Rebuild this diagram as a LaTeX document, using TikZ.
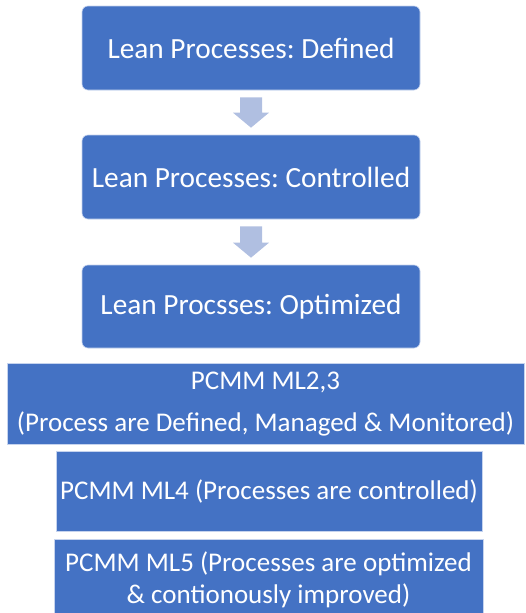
\documentclass[tikz,border=0pt]{standalone}
\usepackage{fontspec}
\setmainfont{Carlito}
\usepackage{tikz}
\usetikzlibrary{calc}
\definecolor{boxblue}{HTML}{4472C4}
\definecolor{arrowblue}{HTML}{B0BFE1}
\definecolor{edgeblue}{HTML}{C5D3EE}
\frenchspacing

\begin{document}
\begin{tikzpicture}[x=1pt, y=-1pt,
  leanbox/.style={fill=boxblue, draw=edgeblue, line width=0.6pt, rounded corners=6pt,
    minimum width=338pt, minimum height=84pt, inner sep=0pt, text=white,
    font=\fontsize{29.3}{35}\selectfont},
  pcmmbox/.style={fill=boxblue, draw=edgeblue, line width=0.6pt, inner sep=0pt,
    text=white, align=center, font=\fontsize{27}{32}\selectfont}]
  \useasboundingbox (0,0) rectangle (525,613);
  \clip (0,0) rectangle (525,613);
  % lean process steps
  \node[leanbox] (defined) at (251,48) {Lean Processes: Defined};
  \node[leanbox] (controlled) at (251,177) {Lean Processes: Controlled};
  \node[leanbox, minimum height=83pt] (optimized) at (251,306.5) {Lean Procsses: Optimized};
  \foreach \a/\b in {defined/controlled, controlled/optimized}
    \fill[arrowblue] ($(\a.south)+(-11,7)$) -- ($(\a.south)+(11,7)$)
      -- ($(\b.north)+(11,-22)$) -- ($(\b.north)+(18,-22)$) -- ($(\b.north)+(0,-7)$)
      -- ($(\b.north)+(-18,-22)$) -- ($(\b.north)+(-11,-22)$) -- cycle;
  % PCMM maturity levels
  \node[pcmmbox, minimum width=517pt, minimum height=81pt, font=\fontsize{27}{42}\selectfont]
    (mltwo) at (265.5,404) {PCMM ML2,3\\(Process are Defined, Managed \& Monitored)};
  \node[pcmmbox, minimum width=426pt, minimum height=80pt]
    (mlfour) at (269,491) {PCMM ML4 (Processes are controlled)};
  \node[pcmmbox, minimum width=429pt, minimum height=80pt]
    (mlfive) at (268.5,579.5) {PCMM ML5 (Processes are optimized\\\& contionously improved)};
\end{tikzpicture}
\end{document}
